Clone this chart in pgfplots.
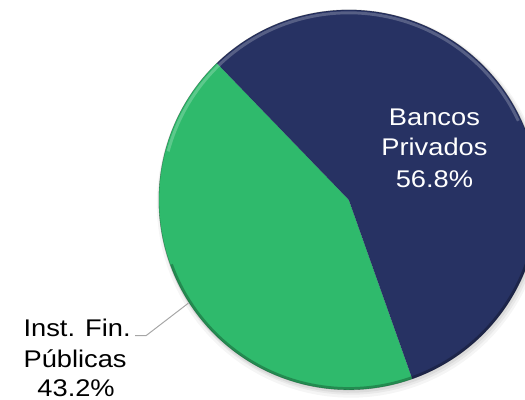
\documentclass[border=0pt]{standalone}
\usepackage{pgfplots}
\usepackage{pgfplotstable}
\pgfplotsset{compat=1.18}
\usepackage{fontspec}
\setmainfont{Liberation Sans}
\definecolor{pnavy}{HTML}{273263}
\definecolor{pgreen}{HTML}{2FBA6C}
\definecolor{lead}{HTML}{A6A6A6}
\pgfplotstableread{
label value
Privados 56.8
Publicas 43.2
}\piedata
\tikzset{lbl/.style={anchor=base, inner sep=0pt, font=\fontsize{24.5bp}{30bp}\selectfont}}
\newcommand{\wide}[1]{\scalebox{1.13}[1]{#1}}
\begin{document}
\pgfplotstablegetelem{0}{value}\of\piedata \let\vpriv\pgfplotsretval
\pgfplotstablegetelem{1}{value}\of\piedata \let\vpub\pgfplotsretval
\pgfmathsetmacro{\aS}{134}
\pgfmathsetmacro{\aM}{\aS+3.6*\vpub}
\pgfmathsetmacro{\aE}{\aM+3.6*\vpriv}
\begin{tikzpicture}
\begin{axis}[
  at={(0,0)}, anchor=south west,
  scale only axis, width=525bp, height=406bp,
  xmin=0, xmax=525, ymin=0, ymax=406,
  hide axis, clip mode=individual,
]
% soft shadow
\addplot[fill=black, fill opacity=0.04, draw=none, domain=0:360, samples=120, variable=\t] ({348+197*cos(\t)},{199+197*sin(\t)}) -- cycle;
\addplot[fill=black, fill opacity=0.05, draw=none, domain=0:360, samples=120, variable=\t] ({348+195*cos(\t)},{200+195*sin(\t)}) -- cycle;
\addplot[fill=black, fill opacity=0.06, draw=none, domain=0:360, samples=120, variable=\t] ({347+194*cos(\t)},{201+194*sin(\t)}) -- cycle;
% slices
\addplot[fill=pgreen, draw=none, domain=\aS:\aM, samples=120, variable=\t] ({346+193*cos(\t)},{203+193*sin(\t)}) -- (axis cs:346,203) -- cycle;
\addplot[fill=pnavy, draw=none, domain=\aM:\aE, samples=160, variable=\t] ({346+193*cos(\t)},{203+193*sin(\t)}) -- (axis cs:346,203) -- cycle;
% bevel highlight / rim
\addplot[draw=white, draw opacity=0.22, line width=3bp, domain=25:165, samples=80, variable=\t] ({346+190*cos(\t)},{203+190*sin(\t)});
\addplot[draw=black, draw opacity=0.25, line width=2.5bp, domain=200:340, samples=80, variable=\t] ({346+191.5*cos(\t)},{203+191.5*sin(\t)});
\addplot[draw=black, draw opacity=0.3, line width=0.6bp, domain=0:360, samples=160, variable=\t] ({346+193*cos(\t)},{203+193*sin(\t)});
% labels
\node[lbl, white] at (axis cs:433,279) {\wide{Bancos}};
\node[lbl, white] at (axis cs:433,248) {\wide{Privados}};
\node[lbl, white] at (axis cs:433,216) {\wide{56.8\%}};
\node[lbl, black] at (axis cs:70,64) {\wide{Inst. Fin.}};
\node[lbl, black] at (axis cs:68,33) {\wide{Públicas}};
\node[lbl, black] at (axis cs:69,3) {\wide{43.2\%}};
\addplot[draw=lead, line width=1bp] coordinates {(129,65) (140,65) (183,98)};
\end{axis}
\pgfresetboundingbox
\path[use as bounding box] (0,0) rectangle (525bp,406bp);
\end{tikzpicture}
\end{document}
